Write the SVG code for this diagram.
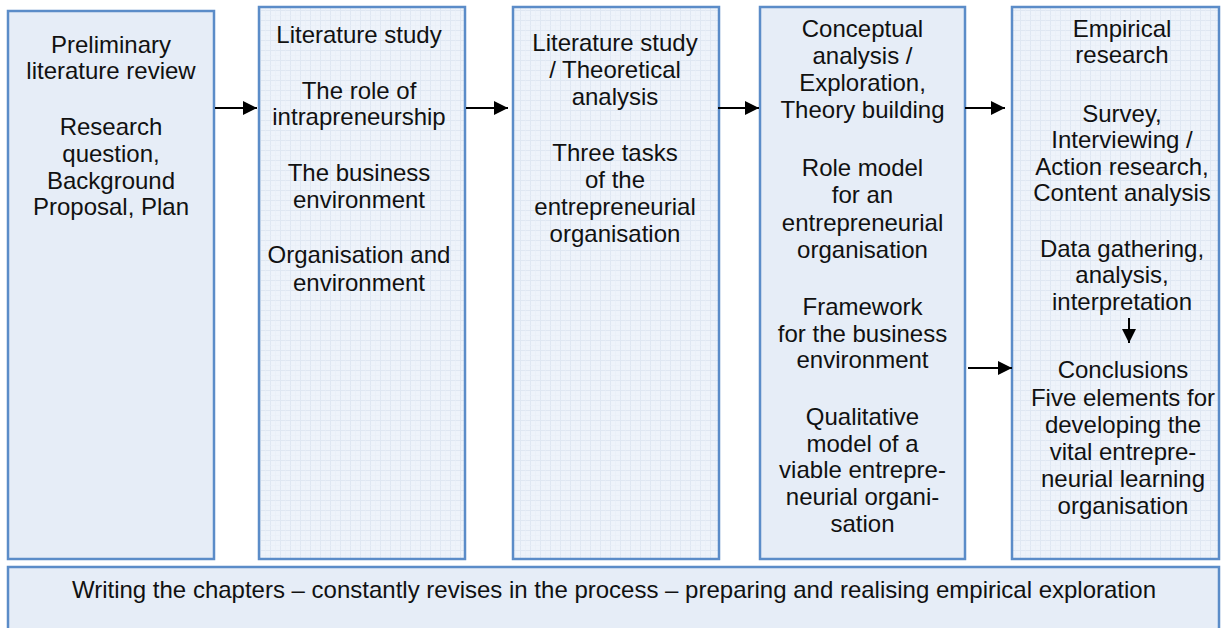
<svg xmlns="http://www.w3.org/2000/svg" width="1228" height="628" viewBox="0 0 1228 628">
<style>
.box{stroke:#5b8cc8;stroke-width:2.5}
.solid{fill:#e6edf7}
.grid{fill:url(#gridp)}
text{font-family:"Liberation Sans",Arial,sans-serif;font-size:24px;fill:#111;text-anchor:middle}
.conn line{stroke:#000;stroke-width:2}
</style>
<defs>
<pattern id="gridp" width="10" height="10" patternUnits="userSpaceOnUse">
<rect width="10" height="10" fill="#eef3fa"/>
<path d="M0 0.5H10M0.5 0V10" stroke="#dfe7f2" stroke-width="1" fill="none"/>
<path d="M0 5.5H10M5.5 0V10" stroke="#e8eef7" stroke-width="0.6" fill="none"/>
</pattern>
<marker id="ah" viewBox="0 0 10 10" refX="10" refY="5" markerWidth="7" markerHeight="7" markerUnits="strokeWidth" orient="auto">
<path d="M0 0L10 5L0 10Z" fill="#000"/>
</marker>
</defs>
<rect width="1228" height="628" fill="#fff"/>

<g id="node1">
<rect class="box solid" x="8" y="11" width="206" height="548"/>
<text x="111" y="53">Preliminary</text>
<text x="111" y="79">literature review</text>
<text x="111" y="135">Research</text>
<text x="111" y="162">question,</text>
<text x="111" y="189">Background</text>
<text x="111" y="215">Proposal, Plan</text>
</g>

<g id="node2">
<rect class="box grid" x="259" y="7" width="206" height="552"/>
<text x="359" y="43">Literature study</text>
<text x="359" y="99">The role of</text>
<text x="359" y="125">intrapreneurship</text>
<text x="359" y="181">The business</text>
<text x="359" y="208">environment</text>
<text x="359" y="263">Organisation and</text>
<text x="359" y="291">environment</text>
</g>

<g id="node3">
<rect class="box grid" x="513" y="7" width="206" height="552"/>
<text x="615" y="51">Literature study</text>
<text x="615" y="78">/ Theoretical</text>
<text x="615" y="105">analysis</text>
<text x="615" y="161">Three tasks</text>
<text x="615" y="188">of the</text>
<text x="615" y="215">entrepreneurial</text>
<text x="615" y="242">organisation</text>
</g>

<g id="node4">
<rect class="box solid" x="760" y="7" width="205" height="552"/>
<text x="862.5" y="37">Conceptual</text>
<text x="862.5" y="64">analysis /</text>
<text x="862.5" y="91">Exploration,</text>
<text x="862.5" y="118">Theory building</text>
<text x="862.5" y="176">Role model</text>
<text x="862.5" y="203">for an</text>
<text x="862.5" y="231">entrepreneurial</text>
<text x="862.5" y="258">organisation</text>
<text x="862.5" y="315">Framework</text>
<text x="862.5" y="342">for the business</text>
<text x="862.5" y="368">environment</text>
<text x="862.5" y="425">Qualitative</text>
<text x="862.5" y="452">model of a</text>
<text x="862.5" y="478">viable entrepre-</text>
<text x="862.5" y="505">neurial organi-</text>
<text x="862.5" y="532">sation</text>
</g>

<g id="node5">
<rect class="box grid" x="1012" y="7" width="207" height="552"/>
<text x="1122" y="37">Empirical</text>
<text x="1122" y="63">research</text>
<text x="1122" y="122">Survey,</text>
<text x="1122" y="148">Interviewing /</text>
<text x="1122" y="175">Action research,</text>
<text x="1122" y="201">Content analysis</text>
<text x="1122" y="257">Data gathering,</text>
<text x="1122" y="283">analysis,</text>
<text x="1122" y="310">interpretation</text>
<text x="1123" y="378">Conclusions</text>
<text x="1123" y="406">Five elements for</text>
<text x="1123" y="433">developing the</text>
<text x="1123" y="460">vital entrepre-</text>
<text x="1123" y="487">neurial learning</text>
<text x="1123" y="514">organisation</text>
</g>

<g id="node6">
<rect class="box solid" x="8" y="567" width="1211" height="80"/>
<text x="614" y="598">Writing the chapters – constantly revises in the process – preparing and realising empirical exploration</text>
</g>

<g id="connectors" class="conn">
<line x1="215" y1="108" x2="257" y2="108" marker-end="url(#ah)"/>
<line x1="466" y1="108" x2="508" y2="108" marker-end="url(#ah)"/>
<line x1="718" y1="108" x2="759" y2="108" marker-end="url(#ah)"/>
<line x1="965" y1="108" x2="1005" y2="108" marker-end="url(#ah)"/>
<line x1="968" y1="368" x2="1012" y2="368" marker-end="url(#ah)"/>
<line x1="1129" y1="318" x2="1129" y2="343" marker-end="url(#ah)"/>
</g>
</svg>
